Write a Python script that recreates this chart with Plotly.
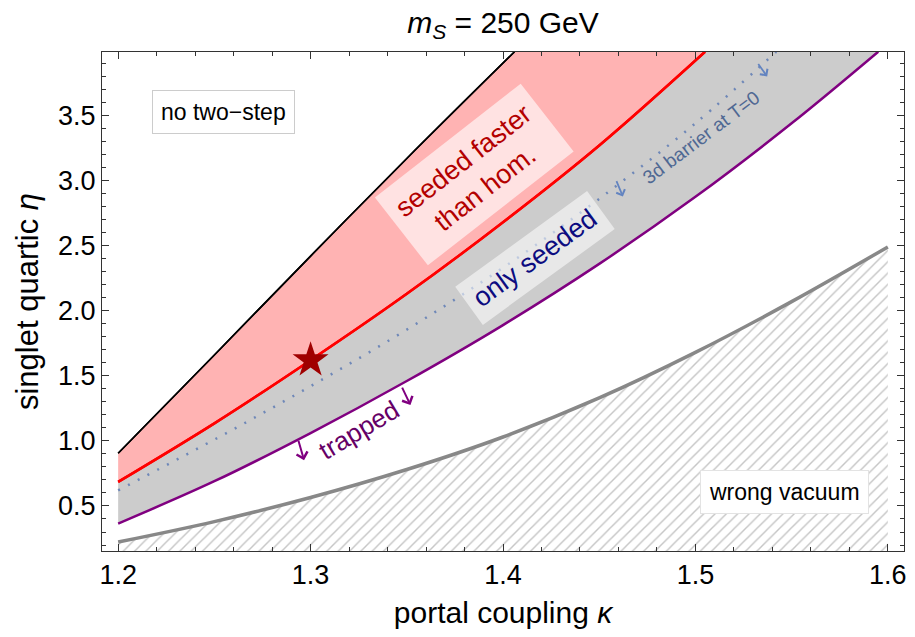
import plotly.graph_objects as go

# ---- data ----
kappa_black = [1.20, 1.25, 1.30, 1.35, 1.406]
eta_black = [0.905, 1.66, 2.42, 3.17, 3.99]

kappa_red = [1.20, 1.25, 1.30, 1.35, 1.40, 1.45, 1.505]
eta_red = [0.685, 1.135, 1.62, 2.13, 2.68, 3.27, 3.99]

kappa_purple = [1.20, 1.25, 1.30, 1.35, 1.40, 1.45, 1.50, 1.55, 1.595]
eta_purple = [0.365, 0.69, 1.06, 1.46, 1.89, 2.36, 2.875, 3.44, 3.99]

kappa_dot = [1.20, 1.25, 1.30, 1.35, 1.40, 1.45, 1.50, 1.542]
eta_dot = [0.62, 1.01, 1.42, 1.855, 2.33, 2.86, 3.44, 3.99]

kappa_vac = [1.20, 1.25, 1.30, 1.35, 1.40, 1.45, 1.50, 1.55, 1.60]
eta_vac = [0.223, 0.38, 0.565, 0.78, 1.03, 1.33, 1.68, 2.07, 2.49]

star_kappa = [1.30]
star_eta = [1.62]

# arrow heads (kappa, eta) with tail offsets in pixels
trapped_arrows = [(1.2966, 0.852, -6, -21), (1.3519, 1.275, -9, -19)]
barrier_arrows = [(1.4623, 2.877, -7, -17), (1.5373, 3.80, -10, -14)]

x_ticks = [1.2, 1.3, 1.4, 1.5, 1.6]
y_ticks = [0.5, 1.0, 1.5, 2.0, 2.5, 3.0, 3.5]

FONT = "Liberation Sans, Arial, DejaVu Sans, sans-serif"

fig = go.Figure()

# hatched wrong-vacuum region
fig.add_trace(go.Scatter(
    x=kappa_vac, y=eta_vac, mode="lines", line=dict(color="#888888", width=3.5, shape="spline"),
    fill="tozeroy", fillcolor="rgba(0,0,0,0)",
    fillpattern=dict(shape="/", fgcolor="#8c8c8c", bgcolor="white", size=8, solidity=0.18),
    hoverinfo="skip", showlegend=False))

# black boundary
fig.add_trace(go.Scatter(
    x=kappa_black, y=eta_black, mode="lines",
    line=dict(color="black", width=1.6, shape="spline"), showlegend=False))

# red boundary, pink region between black and red
fig.add_trace(go.Scatter(
    x=kappa_red, y=eta_red, mode="lines",
    line=dict(color="#FF0000", width=2.5, shape="spline"),
    fill="tonexty", fillcolor="#FFB3B3", showlegend=False))

# purple boundary, gray region between red and purple
fig.add_trace(go.Scatter(
    x=kappa_purple, y=eta_purple, mode="lines",
    line=dict(color="#800080", width=2.5, shape="spline"),
    fill="tonexty", fillcolor="#CCCCCC", showlegend=False))

# redraw red and black lines on top of fills
fig.add_trace(go.Scatter(
    x=kappa_red, y=eta_red, mode="lines",
    line=dict(color="#FF0000", width=2.5, shape="spline"), showlegend=False))
fig.add_trace(go.Scatter(
    x=kappa_black, y=eta_black, mode="lines",
    line=dict(color="black", width=1.6, shape="spline"), showlegend=False))

# dotted 3d barrier line
fig.add_trace(go.Scatter(
    x=kappa_dot, y=eta_dot, mode="lines",
    line=dict(color="#6f88b8", width=2.5, dash="2px,9px", shape="spline"), showlegend=False))

# star
fig.add_trace(go.Scatter(
    x=star_kappa, y=star_eta, mode="markers",
    marker=dict(symbol="star", size=27, color="#A00000", line=dict(width=0)), showlegend=False))

ann = []
ann.append(dict(x=1.2545, y=3.525, text="no two\u2212step", showarrow=False,
                font=dict(family=FONT, size=23, color="black"),
                bgcolor="white", bordercolor="#cccccc", borderwidth=1, borderpad=8))
ann.append(dict(x=1.5461, y=0.609, text="wrong vacuum", showarrow=False,
                font=dict(family=FONT, size=23, color="black"),
                bgcolor="white", bordercolor="#e3e3e3", borderwidth=1, borderpad=8))
ann.append(dict(x=1.385, y=3.05, text="seeded faster<br>than hom.", showarrow=False,
                textangle=-38, font=dict(family=FONT, size=27, color="#B30000"),
                bgcolor="rgba(255,255,255,0.62)", borderpad=10))
ann.append(dict(x=1.4166, y=2.405, text="only seeded", showarrow=False,
                textangle=-36, font=dict(family=FONT, size=27, color="#0c0c80"),
                bgcolor="rgba(255,255,255,0.55)", borderpad=8))
ann.append(dict(x=1.503, y=3.33, text="3d barrier at T=0", showarrow=False,
                textangle=-37, font=dict(family=FONT, size=19, color="#4f6893")))
ann.append(dict(x=1.3252, y=1.082, text="trapped", showarrow=False,
                textangle=-31, font=dict(family=FONT, size=26, color="#660066")))
for (hx, hy, ox, oy) in trapped_arrows:
    ann.append(dict(x=hx, y=hy, ax=ox, ay=oy, text="", showarrow=True,
                    arrowhead=4, arrowsize=1.1, arrowwidth=2, arrowcolor="#800080", standoff=0))
for (hx, hy, ox, oy) in barrier_arrows:
    ann.append(dict(x=hx, y=hy, ax=ox, ay=oy, text="", showarrow=True,
                    arrowhead=4, arrowsize=1.0, arrowwidth=1.8, arrowcolor="#6384c0", standoff=0))

axis_common = dict(
    showline=True, linecolor="#333333", linewidth=1, mirror="allticks",
    ticks="inside", ticklen=7, tickcolor="#333333", tickwidth=1,
    showgrid=False, zeroline=False,
    tickfont=dict(family=FONT, size=27, color="black"),
)

fig.update_layout(
    width=915, height=637,
    margin=dict(l=102, r=8, t=52, b=86),
    paper_bgcolor="white", plot_bgcolor="white",
    title=dict(text="<i>m<sub>S</sub></i> = 250 GeV", x=0.5, xref="paper",
               y=1 - 22 / 637, yref="container", yanchor="middle", xanchor="center",
               font=dict(family=FONT, size=30, color="black")),
    xaxis=dict(range=[1.1916, 1.6084], tickvals=x_ticks,
               ticktext=[f"{v:.1f}" for v in x_ticks],
               minor=dict(ticks="inside", ticklen=4, dtick=0.02, tick0=1.2, tickcolor="#333333"),
               title=dict(text="portal coupling <i>\u03ba</i>", standoff=12,
                          font=dict(family=FONT, size=30, color="black")),
               **axis_common),
    yaxis=dict(range=[0.154, 3.988], tickvals=y_ticks,
               ticktext=[f"{v:.1f}" for v in y_ticks],
               minor=dict(ticks="inside", ticklen=4, dtick=0.1, tick0=0.5, tickcolor="#333333"),
               title=dict(text="singlet quartic <i>\u03b7</i>", standoff=10,
                          font=dict(family=FONT, size=31, color="black")),
               **axis_common),
    annotations=ann,
)

fig.write_html("out.html")
